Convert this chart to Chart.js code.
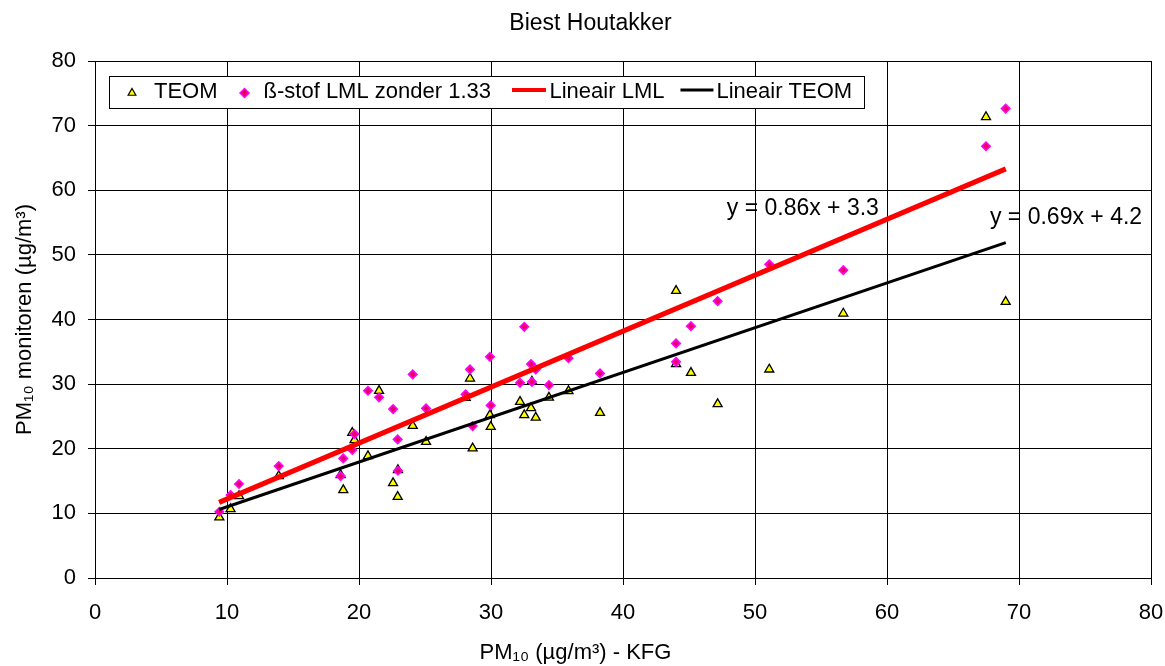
<!DOCTYPE html>
<html>
<head>
<meta charset="utf-8">
<script src="https://cdn.jsdelivr.net/npm/chart.js@4/dist/chart.umd.min.js"></script>
<style>
html,body{margin:0;padding:0;background:#fff;}
#wrap{width:1165px;height:666px;}
</style>
</head>
<body>
<div id="wrap"><canvas id="c" width="1165" height="666"></canvas></div>
<script>
// ---- data ----
const chartTitle = 'Biest Houtakker';
const xAxisTitle = 'PM\u2081\u2080 (\u00b5g/m\u00b3) - KFG';
const yAxisTitle = 'PM\u2081\u2080 monitoren (\u00b5g/m\u00b3)';
const seriesNames = ['TEOM', '\u00df-stof LML zonder 1.33', 'Lineair LML', 'Lineair TEOM'];
const axisTicks = [0, 10, 20, 30, 40, 50, 60, 70, 80];

// KFG reference values (x)
const kfg = [9.42, 10.27, 10.91, 13.92, 18.61, 18.81, 19.49, 19.66, 20.68, 21.52,
             22.58, 22.93, 22.95, 24.07, 25.08, 28.08, 28.41, 28.61, 29.92, 29.98,
             32.20, 32.52, 33.03, 33.10, 33.39, 34.39, 35.87, 38.26, 44.02, 44.02,
             45.15, 47.17, 51.08, 56.69, 67.50, 68.99];
// TEOM monitor values (y)
const teom = [9.39, 10.67, 12.68, 15.77, 15.93, 13.61, 22.47, 21.34, 18.87, 28.97,
              14.69, 12.57, 16.70, 23.55, 21.08, 27.88, 30.88, 20.06, 25.21, 23.40,
              27.27, 25.21, 26.29, 30.40, 24.82, 27.92, 28.92, 25.56, 44.43, 33.10,
              31.75, 26.91, 32.28, 40.94, 71.34, 42.73];
// ß-stof LML values (y)
const lml = [10.25, 12.84, 14.54, 17.32, 15.77, 18.51, 19.80, 22.27, 28.97, 27.95,
             26.14, 21.45, 16.59, 31.50, 26.24, 28.41, 32.28, 23.51, 34.22, 26.71,
             30.20, 38.86, 33.10, 30.36, 32.28, 29.85, 34.02, 31.66, 36.30, 33.45,
             38.97, 42.84, 48.53, 47.63, 66.81, 72.64];
// trend line end points as drawn
const trendLmlX = [9.4, 69.0];
const trendLmlY = [11.7, 63.3];
const trendTeomX = [9.4, 69.0];
const trendTeomY = [10.6, 51.9];
const equationTexts = ['y = 0.86x + 3.3', 'y = 0.69x + 4.2'];

// ---- chart ----
const FONT = '"Liberation Sans", Arial, Helvetica, sans-serif';
Chart.defaults.font.family = FONT;
Chart.defaults.color = '#000';

const pts = (xs, ys) => xs.map((x, i) => ({x: x, y: ys[i]}));

const textPlugin = {
  id: 'texts',
  afterDatasetsDraw(chart, args, opts) {
    const ctx = chart.ctx, xs = chart.scales.x, ys = chart.scales.y;
    ctx.save();
    ctx.fillStyle = '#000';
    ctx.textBaseline = 'middle';
    // equations, anchored in data space
    ctx.font = '23px ' + FONT;
    ctx.textAlign = 'left';
    opts.anchors.forEach((a, i) => {
      ctx.fillText(equationTexts[i], xs.getPixelForValue(a.x), ys.getPixelForValue(a.y));
    });
    // chart title
    ctx.textAlign = 'center';
    ctx.fillText(chartTitle, opts.titleAt.x, opts.titleAt.y);
    ctx.restore();
  }
};

const legendPlugin = {
  id: 'boxLegend',
  afterDraw(chart) {
    const ctx = chart.ctx, ca = chart.chartArea;
    const ds = chart.data.datasets;
    const left = Math.round(ca.left + 14), top = Math.round(ca.top + 15), h = 32;
    const cy = top + h / 2;
    ctx.save();
    ctx.font = '22px ' + FONT;
    const w = t => ctx.measureText(t).width;
    const triX = left + 23;
    const t1 = left + 45;
    const diaX = t1 + w(seriesNames[0]) + 27;
    const t2 = diaX + 19;
    const l1s = t2 + w(seriesNames[1]) + 21, l1e = l1s + 34;
    const t3 = l1e + 3.5;
    const l2s = t3 + w(seriesNames[2]) + 16, l2e = l2s + 33;
    const t4 = l2e + 3;
    const right = Math.round(t4 + w(seriesNames[3]) + 12);
    ctx.fillStyle = '#fff';
    ctx.fillRect(left, top, right - left, h);
    ctx.strokeStyle = '#000';
    ctx.lineWidth = 1;
    ctx.strokeRect(left + 0.5, top + 0.5, right - left, h);
    const r = 4.5;
    ctx.beginPath();
    ctx.moveTo(triX, cy - r + 1);
    ctx.lineTo(triX + r * 0.866, cy + r / 2 + 1);
    ctx.lineTo(triX - r * 0.866, cy + r / 2 + 1);
    ctx.closePath();
    ctx.fillStyle = ds[3].backgroundColor;
    ctx.fill();
    ctx.strokeStyle = ds[3].borderColor;
    ctx.lineWidth = 1.2;
    ctx.stroke();
    const d = 4.5;
    ctx.beginPath();
    ctx.moveTo(diaX, cy - d + 1);
    ctx.lineTo(diaX + d, cy + 1);
    ctx.lineTo(diaX, cy + d + 1);
    ctx.lineTo(diaX - d, cy + 1);
    ctx.closePath();
    ctx.fillStyle = ds[2].backgroundColor;
    ctx.fill();
    ctx.strokeStyle = ds[2].borderColor;
    ctx.lineWidth = 1.5;
    ctx.stroke();
    ctx.lineCap = 'butt';
    ctx.strokeStyle = ds[1].borderColor; ctx.lineWidth = 4;
    ctx.beginPath(); ctx.moveTo(l1s, cy - 2); ctx.lineTo(l1e, cy - 2); ctx.stroke();
    ctx.strokeStyle = ds[0].borderColor; ctx.lineWidth = 3;
    ctx.beginPath(); ctx.moveTo(l2s, cy - 2); ctx.lineTo(l2e, cy - 2); ctx.stroke();
    ctx.fillStyle = '#000';
    ctx.textAlign = 'left';
    ctx.textBaseline = 'middle';
    ctx.fillText(seriesNames[0], t1, cy);
    ctx.fillText(seriesNames[1], t2, cy);
    ctx.fillText(seriesNames[2], t3, cy);
    ctx.fillText(seriesNames[3], t4, cy);
    ctx.restore();
  }
};

new Chart(document.getElementById('c'), {
  type: 'scatter',
  data: {
    datasets: [
      { label: seriesNames[3], type: 'line', data: pts(trendTeomX, trendTeomY),
        borderColor: '#000', borderWidth: 3, pointRadius: 0, fill: false, order: 0 },
      { label: seriesNames[2], type: 'line', data: pts(trendLmlX, trendLmlY),
        borderColor: '#ff0000', borderWidth: 5, pointRadius: 0, fill: false, order: 1 },
      { label: seriesNames[1], data: pts(kfg, lml), pointStyle: 'rectRot',
        pointRadius: 4.2, backgroundColor: '#e8005e', borderColor: '#ff00ff', borderWidth: 1.6, order: 2 },
      { label: seriesNames[0], data: pts(kfg, teom), pointStyle: 'triangle',
        pointRadius: 5.2, backgroundColor: '#ffff00', borderColor: '#000', borderWidth: 1.3, order: 3 }
    ]
  },
  options: {
    responsive: false,
    animation: false,
    devicePixelRatio: 1,
    layout: { padding: { left: 0, right: 14, top: 61, bottom: 0 } },
    plugins: {
      legend: { display: false },
      tooltip: { enabled: false },
      title: { display: false },
      subtitle: { display: true, position: 'bottom', text: xAxisTitle,
                  font: { size: 22, weight: 'normal' }, color: '#000', padding: { top: 0, bottom: 0 } },
      texts: { anchors: [ { x: 47.86, y: 57.2 }, { x: 67.8, y: 55.8 } ], titleAt: { x: 590.5, y: 24 } }
    },
    scales: {
      x: {
        type: 'linear', min: 0, max: 80,
        afterBuildTicks: s => { s.ticks = axisTicks.map(v => ({ value: v })); },
        afterFit: s => { s.height = 61.6; s.paddingLeft = 0; s.paddingRight = 0; },
        ticks: { font: { size: 22 }, color: '#000', padding: 15 },
        grid: { color: '#000', lineWidth: 1, tickLength: 7, drawTicks: true },
        border: { color: '#000', width: 1 }
      },
      y: {
        type: 'linear', min: 0, max: 80,
        afterBuildTicks: s => { s.ticks = axisTicks.map(v => ({ value: v })); },
        afterFit: s => { s.width = 95; s.paddingTop = 0; s.paddingBottom = 0; },
        ticks: { font: { size: 22 }, color: '#000', padding: 12 },
        grid: { color: '#000', lineWidth: 1, tickLength: 7, drawTicks: true },
        border: { color: '#000', width: 1 },
        title: { display: true, text: yAxisTitle, font: { size: 22 }, color: '#000',
                 padding: { top: 12, bottom: 0 } }
      }
    }
  },
  plugins: [textPlugin, legendPlugin]
});
</script>
</body>
</html>
